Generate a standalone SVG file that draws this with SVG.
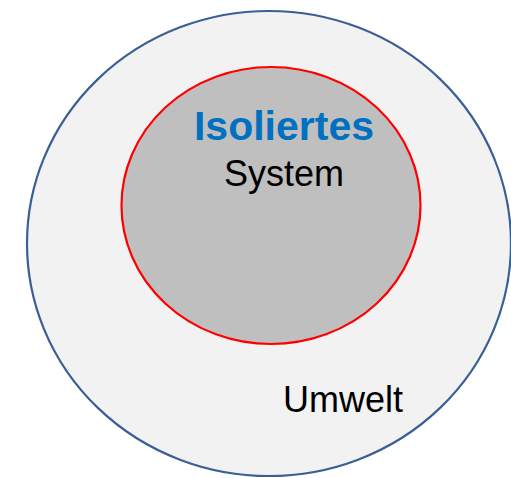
<svg xmlns="http://www.w3.org/2000/svg" width="511" height="478" viewBox="0 0 511 478">
<style>
text{font-family:"Liberation Sans",Arial,sans-serif;}
.t{font-size:36px;fill:#000;text-anchor:middle}
</style>
<g id="umwelt">
<ellipse cx="269" cy="243.5" rx="242" ry="232.5" fill="#F2F2F2" stroke="#3A5F95" stroke-width="2.2"/>
<text class="t" x="343" y="412">Umwelt</text>
</g>
<g id="system">
<ellipse cx="271" cy="205.5" rx="149.5" ry="138.5" fill="#BFBFBF" stroke="#FF0000" stroke-width="2.2"/>
<text x="284" y="140" font-size="41" font-weight="bold" fill="#0070C0" text-anchor="middle">Isoliertes</text>
<text class="t" x="284" y="186">System</text>
</g>
<g id="connectors"/>
</svg>
